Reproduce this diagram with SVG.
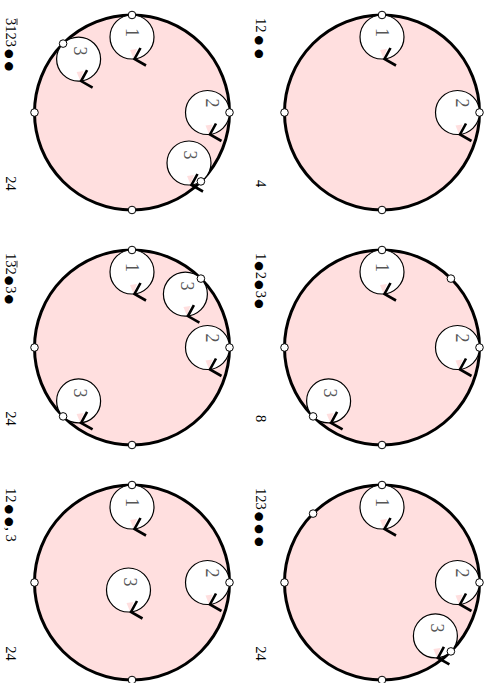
<svg xmlns="http://www.w3.org/2000/svg" xmlns:xlink="http://www.w3.org/1999/xlink" width="486" height="683" viewBox="0 0 486 683">
<style>
.big{fill:#ffdfdf;stroke:#000;stroke-width:3}
.dot{fill:#fff;stroke:#000;stroke-width:1}
.lbl{font-family:"Liberation Serif","DejaVu Serif",serif;font-size:14.5px;fill:#000}
.b{font-family:"DejaVu Sans",sans-serif;font-size:11px}
.num{font-family:"Liberation Serif","DejaVu Serif",serif;font-size:18px;fill:#555;text-anchor:middle;dominant-baseline:central}
.bar{stroke:#000;stroke-width:0.8}
</style>
<defs>
<g id="loop">
<circle r="22" fill="#fff" stroke="#000" stroke-width="1.2"/>
<polygon points="-2,13 5,12 1.5,21.5" fill="#ffdfdf"/>
<polyline points="8.5,11 2.5,22 14,28.5" fill="none" stroke="#000" stroke-width="2.6"/>
</g>
</defs>

<g id="panelA">
<circle class="big" cx="382" cy="112.5" r="97.5"/>
<use xlink:href="#loop" x="382" y="37"/>
<text class="num" transform="translate(381.5,32.5) rotate(90)">1</text>
<use xlink:href="#loop" x="457.5" y="112.5"/>
<text class="num" transform="translate(461.5,103) rotate(90)">2</text>
<circle class="dot" cx="382" cy="15" r="3.8"/>
<circle class="dot" cx="284.5" cy="112.5" r="3.8"/>
<circle class="dot" cx="479.5" cy="112.5" r="3.8"/>
<circle class="dot" cx="382" cy="210" r="3.8"/>
<text class="lbl" transform="translate(255.5,18) rotate(90)">12<tspan class="b" dx="3">●</tspan><tspan class="b" dx="4">●</tspan></text>
<text class="lbl" text-anchor="middle" transform="translate(255.5,183.5) rotate(90)">4</text>
</g>

<g id="panelB">
<circle class="big" cx="132" cy="112.5" r="97.5"/>
<use xlink:href="#loop" x="132" y="37"/>
<text class="num" transform="translate(131.5,32.5) rotate(90)">1</text>
<use xlink:href="#loop" x="207.5" y="112.5"/>
<text class="num" transform="translate(211.5,103) rotate(90)">2</text>
<use xlink:href="#loop" x="78.6" y="59.1"/>
<text class="num" transform="translate(79.5,51) rotate(90)">3</text>
<use xlink:href="#loop" x="189" y="163"/>
<text class="num" transform="translate(190,155) rotate(90)">3</text>
<circle class="dot" cx="132" cy="15" r="3.8"/>
<circle class="dot" cx="34.5" cy="112.5" r="3.8"/>
<circle class="dot" cx="229.5" cy="112.5" r="3.8"/>
<circle class="dot" cx="132" cy="210" r="3.8"/>
<circle class="dot" cx="63.1" cy="43.6" r="3.8"/>
<circle class="dot" cx="200.9" cy="181.4" r="3.8"/>
<g transform="translate(6,18) rotate(90)">
<text class="lbl">3123<tspan class="b" dx="2">●</tspan><tspan class="b" dx="3">●</tspan></text>
<line class="bar" x1="0.5" y1="-11" x2="7" y2="-11"/>
</g>
<text class="lbl" text-anchor="middle" transform="translate(6,183.5) rotate(90)">24</text>
</g>

<g id="panelC">
<circle class="big" cx="382" cy="347.5" r="97.5"/>
<use xlink:href="#loop" x="382" y="272"/>
<text class="num" transform="translate(381.5,267.5) rotate(90)">1</text>
<use xlink:href="#loop" x="457.5" y="347.5"/>
<text class="num" transform="translate(461.5,338) rotate(90)">2</text>
<use xlink:href="#loop" x="328.6" y="400.9"/>
<text class="num" transform="translate(329.5,393) rotate(90)">3</text>
<circle class="dot" cx="382" cy="250" r="3.8"/>
<circle class="dot" cx="284.5" cy="347.5" r="3.8"/>
<circle class="dot" cx="479.5" cy="347.5" r="3.8"/>
<circle class="dot" cx="382" cy="445" r="3.8"/>
<circle class="dot" cx="450.9" cy="278.6" r="3.8"/>
<circle class="dot" cx="313.1" cy="416.4" r="3.8"/>
<text class="lbl" transform="translate(255.5,253) rotate(90)">1<tspan class="b" dx="1">●</tspan><tspan dx="1">2</tspan><tspan class="b" dx="1">●</tspan><tspan dx="1">3</tspan><tspan class="b" dx="1">●</tspan></text>
<text class="lbl" text-anchor="middle" transform="translate(255.5,418.5) rotate(90)">8</text>
</g>

<g id="panelD">
<circle class="big" cx="132" cy="347.5" r="97.5"/>
<use xlink:href="#loop" x="132" y="272"/>
<text class="num" transform="translate(131.5,267.5) rotate(90)">1</text>
<use xlink:href="#loop" x="207.5" y="347.5"/>
<text class="num" transform="translate(211.5,338) rotate(90)">2</text>
<use xlink:href="#loop" x="185.4" y="294.1"/>
<text class="num" transform="translate(186.5,286) rotate(90)">3</text>
<use xlink:href="#loop" x="78.6" y="400.9"/>
<text class="num" transform="translate(79.5,393) rotate(90)">3</text>
<circle class="dot" cx="132" cy="250" r="3.8"/>
<circle class="dot" cx="34.5" cy="347.5" r="3.8"/>
<circle class="dot" cx="229.5" cy="347.5" r="3.8"/>
<circle class="dot" cx="132" cy="445" r="3.8"/>
<circle class="dot" cx="200.9" cy="278.6" r="3.8"/>
<circle class="dot" cx="63.1" cy="416.4" r="3.8"/>
<g transform="translate(6,253) rotate(90)">
<text class="lbl">132<tspan class="b" dx="1">●</tspan><tspan dx="1">3</tspan><tspan class="b" dx="1">●</tspan></text>
<line class="bar" x1="7.8" y1="-11" x2="14.5" y2="-11"/>
</g>
<text class="lbl" text-anchor="middle" transform="translate(6,418.5) rotate(90)">24</text>
</g>

<g id="panelE">
<circle class="big" cx="382" cy="582.5" r="97.5"/>
<use xlink:href="#loop" x="382" y="507"/>
<text class="num" transform="translate(381.5,502.5) rotate(90)">1</text>
<use xlink:href="#loop" x="457.5" y="582.5"/>
<text class="num" transform="translate(461.5,573) rotate(90)">2</text>
<use xlink:href="#loop" x="435.4" y="635.9"/>
<text class="num" transform="translate(436.5,628) rotate(90)">3</text>
<circle class="dot" cx="382" cy="485" r="3.8"/>
<circle class="dot" cx="284.5" cy="582.5" r="3.8"/>
<circle class="dot" cx="479.5" cy="582.5" r="3.8"/>
<circle class="dot" cx="382" cy="680" r="3.8"/>
<circle class="dot" cx="450.9" cy="651.4" r="3.8"/>
<circle class="dot" cx="313.1" cy="513.6" r="3.8"/>
<text class="lbl" transform="translate(255.5,488) rotate(90)">123<tspan class="b" dx="2">●</tspan><tspan class="b" dx="3">●</tspan><tspan class="b" dx="3">●</tspan></text>
<text class="lbl" text-anchor="middle" transform="translate(255.5,653.5) rotate(90)">24</text>
</g>

<g id="panelF">
<circle class="big" cx="132" cy="582.5" r="97.5"/>
<use xlink:href="#loop" x="132" y="507"/>
<text class="num" transform="translate(131.5,502.5) rotate(90)">1</text>
<use xlink:href="#loop" x="207.5" y="582.5"/>
<text class="num" transform="translate(211.5,573) rotate(90)">2</text>
<use xlink:href="#loop" x="128.5" y="590"/>
<text class="num" transform="translate(129.5,582) rotate(90)">3</text>
<circle class="dot" cx="132" cy="485" r="3.8"/>
<circle class="dot" cx="34.5" cy="582.5" r="3.8"/>
<circle class="dot" cx="229.5" cy="582.5" r="3.8"/>
<circle class="dot" cx="132" cy="680" r="3.8"/>
<text class="lbl" transform="translate(6,488) rotate(90)">12<tspan class="b" dx="2">●</tspan><tspan class="b" dx="3">●</tspan><tspan dx="0.5">, 3</tspan></text>
<text class="lbl" text-anchor="middle" transform="translate(6,653.5) rotate(90)">24</text>
</g>
</svg>
